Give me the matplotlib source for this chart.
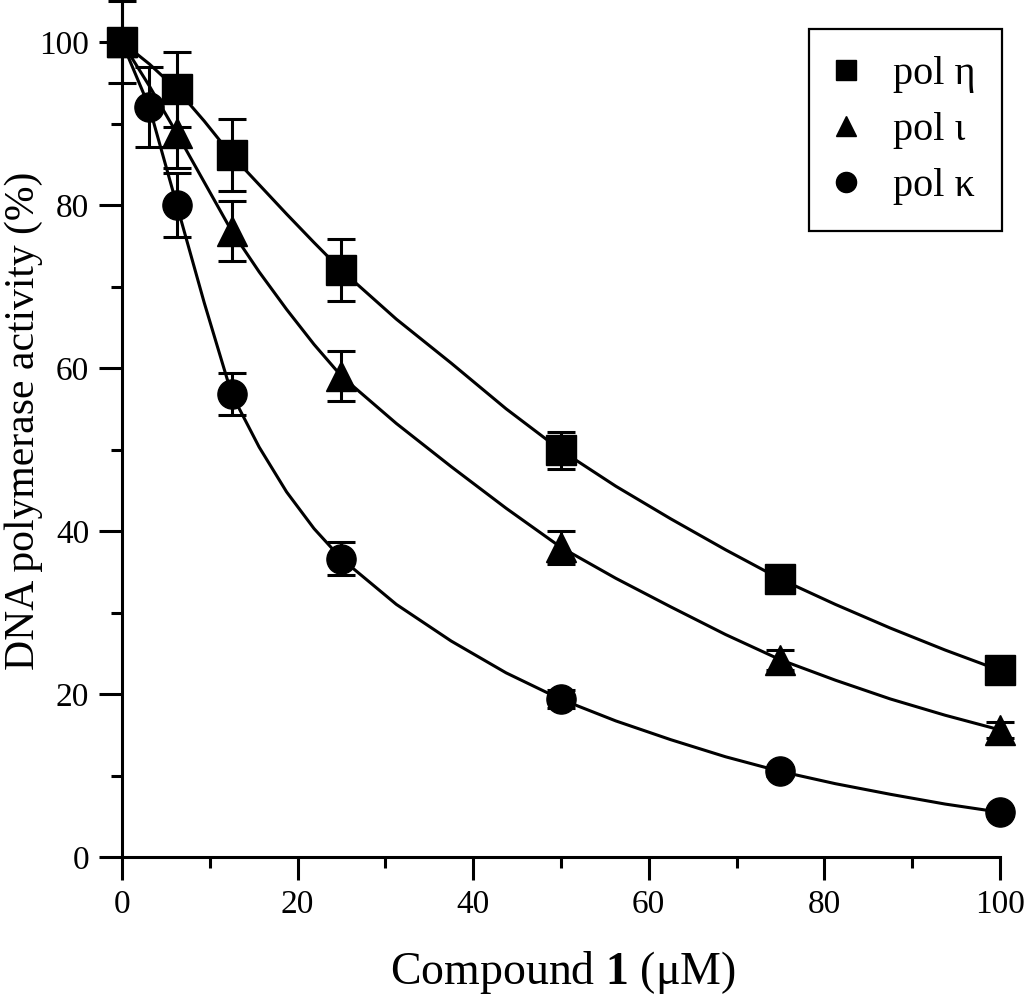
import matplotlib

matplotlib.use('Agg')

import matplotlib.pyplot as plt
from matplotlib.lines import Line2D
from matplotlib.ticker import MultipleLocator

# ---------------------------------------------------------------------------
# data
# ---------------------------------------------------------------------------
conc_eta = [0, 6.25, 12.5, 25, 50, 75, 100]
act_eta = [100, 94.2, 86.1, 72.0, 49.9, 34.1, 22.9]
err_eta = [5.0, 4.6, 4.4, 3.8, 2.3, 0.6, 0.5]

conc_iota = [0, 6.25, 12.5, 25, 50, 75, 100]
act_iota = [100, 88.8, 76.8, 59.0, 38.0, 24.2, 15.6]
err_iota = [0.0, 4.3, 3.7, 3.1, 2.0, 1.2, 1.0]

conc_kappa = [0, 3.125, 6.25, 12.5, 25, 50, 75, 100]
act_kappa = [100, 92.0, 80.0, 56.8, 36.6, 19.35, 10.5, 5.5]
err_kappa = [0.0, 4.9, 3.9, 2.6, 2.0, 1.1, 0.6, 0.5]

# fitted curves, sampled from the figure
fit_x = [0, 3.125, 6.25, 9.375, 12.5, 15.625, 18.75, 21.875, 25, 31.25, 37.5,
         43.75, 50, 56.25, 62.5, 68.75, 75, 81.25, 87.5, 93.75, 100]
fit_eta = [100, 97.3, 94.2, 90.3, 86.1, 82.5, 78.9, 75.4, 72.0, 66.0, 60.6,
           55.0, 49.9, 45.5, 41.5, 37.7, 34.1, 31.0, 28.1, 25.4, 22.9]
fit_iota = [100, 94.6, 88.8, 82.8, 76.8, 71.8, 67.2, 62.9, 59.0, 53.2, 47.9,
            42.8, 38.0, 34.2, 30.7, 27.3, 24.2, 21.7, 19.4, 17.4, 15.6]
fit_kappa = [100, 92.0, 80.0, 68.0, 56.8, 50.3, 44.8, 40.3, 36.6, 31.0, 26.5,
             22.6, 19.35, 16.7, 14.4, 12.3, 10.5, 9.0, 7.7, 6.5, 5.5]

labels = ['pol η', 'pol ι', 'pol κ']
markers = ['s', '^', 'o']

plt.rcParams['font.family'] = ['Liberation Serif', 'DejaVu Serif']
plt.rcParams['mathtext.fontset'] = 'custom'
plt.rcParams['mathtext.rm'] = 'Liberation Serif'
plt.rcParams['mathtext.bf'] = 'Liberation Serif:bold'

fig = plt.figure(figsize=(10.24, 9.97), dpi=100)
ax = fig.add_axes([0.1191, 0.1404, 0.8574, 0.8583])

series = [
    (conc_eta, act_eta, err_eta, fit_eta),
    (conc_iota, act_iota, err_iota, fit_iota),
    (conc_kappa, act_kappa, err_kappa, fit_kappa),
]

for (x, y, e, fit), m in zip(series, markers):
    ax.plot(fit_x, fit, color='black', linewidth=2.2, zorder=2, clip_on=False,
            solid_joinstyle='round')
    ax.errorbar(x, y, yerr=e, fmt='none', ecolor='black', elinewidth=2.2,
                capsize=10, capthick=2.2, zorder=3, clip_on=False)
    ax.plot(x, y, linestyle='none', marker=m, markersize=21,
            color='black', zorder=4, clip_on=False)

ax.set_xlim(0, 100)
ax.set_ylim(0, 105)
ax.xaxis.set_major_locator(MultipleLocator(20))
ax.xaxis.set_minor_locator(MultipleLocator(10))
ax.yaxis.set_major_locator(MultipleLocator(20))
ax.yaxis.set_minor_locator(MultipleLocator(10))

for side in ('top', 'right'):
    ax.spines[side].set_visible(False)
for side in ('left', 'bottom'):
    ax.spines[side].set_linewidth(2.2)

ax.tick_params(which='major', direction='out', length=16.5, width=2.2,
               labelsize=24, pad=7)
ax.tick_params(which='minor', direction='out', length=8, width=2.2)

ax.set_xlabel('Compound $\\mathbf{1}$ (μM)', fontsize=33)
ax.set_ylabel('DNA polymerase activity (%)', fontsize=30)
ax.xaxis.set_label_coords(0.502, -0.108)
ax.yaxis.set_label_coords(-0.09, 0.51)

handles = [Line2D([], [], linestyle='none', marker=m, markersize=14.5,
                  color='black') for m in markers]
leg = fig.legend(handles, labels, loc='upper right',
                 bbox_to_anchor=(0.9785, 0.9706), fontsize=29,
                 frameon=True, fancybox=False, framealpha=1,
                 edgecolor='black', handlelength=0.55, handletextpad=0.9,
                 labelspacing=0.47, borderpad=0.65, borderaxespad=0)
leg.get_frame().set_linewidth(1.6)

fig.savefig('out.png', dpi=100)
